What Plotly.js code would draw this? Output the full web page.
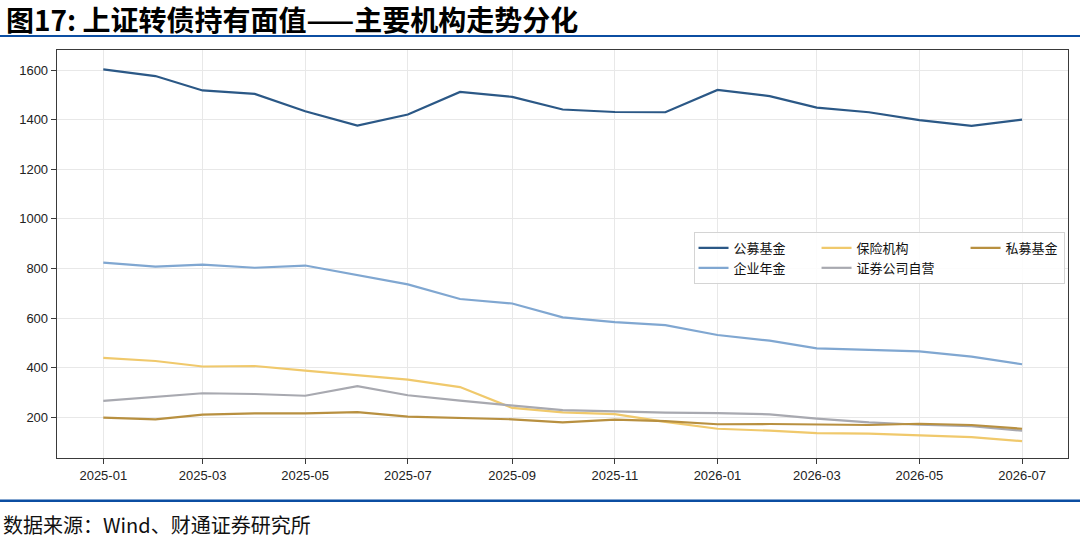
<!DOCTYPE html>
<html>
<head>
<meta charset="utf-8">
<script src="https://cdn.plot.ly/plotly-3.0.1.min.js"></script>
<style>
  html, body { margin: 0; padding: 0; background: #fff; }
  #chart { width: 1080px; height: 538px; }
</style>
</head>
<body>
<div id="chart"></div>
<script>
// monthly observations, 2025-01 .. 2026-07
const months = [
    "2025-01-01", "2025-02-01", "2025-03-01", "2025-04-01", "2025-05-01", "2025-06-01",
    "2025-07-01", "2025-08-01", "2025-09-01", "2025-10-01", "2025-11-01", "2025-12-01",
    "2026-01-01", "2026-02-01", "2026-03-01", "2026-04-01", "2026-05-01", "2026-06-01",
    "2026-07-01"
];

const publicFunds = [1603, 1576, 1518, 1504, 1434, 1376, 1421, 1512, 1492, 1441, 1431, 1430, 1520, 1495, 1449, 1430, 1398, 1375, 1400];
const annuity     = [824, 808, 816, 803, 812, 772, 736, 677, 659, 603, 584, 572, 532, 509, 478, 472, 466, 445, 414];
const insurance   = [440, 427, 405, 407, 388, 369, 352, 322, 238, 220, 213, 182, 154, 146, 136, 134, 126, 120, 104];
const brokers     = [266, 281, 297, 294, 287, 326, 289, 267, 248, 229, 224, 219, 217, 212, 195, 180, 170, 164, 146];
const privateFunds = [199, 192, 211, 216, 216, 221, 203, 197, 192, 180, 191, 185, 172, 173, 172, 169, 174, 169, 154];

const yTicks = [200, 400, 600, 800, 1000, 1200, 1400, 1600];

// name, values, colour, legend column (legend has 3 columns filled top-down)
const seriesList = [
    ["公募基金", publicFunds, "#2b5886", "c1"],
    ["企业年金", annuity, "#80a7d1", "c1"],
    ["保险机构", insurance, "#f0c96c", "c2"],
    ["证券公司自营", brokers, "#a8a9b0", "c2"],
    ["私募基金", privateFunds, "#b89040", "c3"]
];

// ideographic spaces pad the first two legend columns (matplotlib columnspacing)
const colPad = "\u3000\u3000";

const data = seriesList.map(([name, values, color, col]) => ({
    x: months,
    y: values,
    type: "scatter",
    mode: "lines",
    name: col === "c3" ? name : name + colPad,
    legendgroup: col,
    line: { color: color, width: 2.2 }
}));

const axisLine = "#3a3a3a";
const tickFont = { family: "Liberation Sans, Arial, sans-serif", size: 13, color: "#222" };

const layout = {
    width: 1080,
    height: 538,
    margin: { l: 57, r: 12, t: 50, b: 80, autoexpand: false },
    paper_bgcolor: "#ffffff",
    plot_bgcolor: "#ffffff",
    showlegend: true,
    xaxis: {
        type: "date",
        range: ["2024-12-04 12:00", "2026-07-28 07:00"],
        tick0: "2025-01-01",
        dtick: "M2",
        tickformat: "%Y-%m",
        ticks: "outside",
        ticklen: 5,
        tickcolor: axisLine,
        tickfont: tickFont,
        showgrid: true,
        gridcolor: "#e8e8e8",
        gridwidth: 1,
        showline: true,
        linecolor: axisLine,
        linewidth: 1.3,
        mirror: true,
        zeroline: false
    },
    yaxis: {
        range: [36, 1681],
        tickvals: yTicks,
        ticks: "outside",
        ticklen: 5,
        tickcolor: axisLine,
        tickfont: tickFont,
        showgrid: true,
        gridcolor: "#e8e8e8",
        gridwidth: 1,
        showline: true,
        linecolor: axisLine,
        linewidth: 1.3,
        mirror: true,
        zeroline: false
    },
    legend: {
        orientation: "h",
        traceorder: "grouped",
        x: 0.6296,
        y: 0.554,
        xanchor: "left",
        yanchor: "top",
        bgcolor: "rgba(255,255,255,0.85)",
        bordercolor: "#d4d4d4",
        borderwidth: 1,
        font: { family: "Noto Sans CJK SC, sans-serif", size: 13, color: "#111" },
        itemwidth: 30
    },
    shapes: [
        // blue rule under the title and above the source line
        { type: "line", xref: "paper", yref: "paper", x0: -0.06, x1: 1.02,
          y0: 1.0343, y1: 1.0343, line: { color: "#0b4ea2", width: 2.2 } },
        { type: "line", xref: "paper", yref: "paper", x0: -0.06, x1: 1.02,
          y0: -0.1046, y1: -0.1046, line: { color: "#0b4ea2", width: 2.6 } }
    ],
    annotations: [
        {
            text: "<b>图17: 上证转债持有面值——主要机构走势分化</b>",
            xref: "paper", yref: "paper",
            x: -0.0525, y: 1.0748, xanchor: "left", yanchor: "middle",
            showarrow: false,
            font: { family: "Noto Sans CJK SC, sans-serif", size: 28, color: "#000" }
        },
        {
            text: "数据来源：Wind、财通证券研究所",
            xref: "paper", yref: "paper",
            x: -0.055, y: -0.162, xanchor: "left", yanchor: "middle",
            showarrow: false,
            font: { family: "Noto Sans CJK SC, sans-serif", size: 20, color: "#111" }
        }
    ]
};

const config = { displayModeBar: false, responsive: false, staticPlot: true };

Plotly.newPlot("chart", data, layout, config);
</script>
</body>
</html>
